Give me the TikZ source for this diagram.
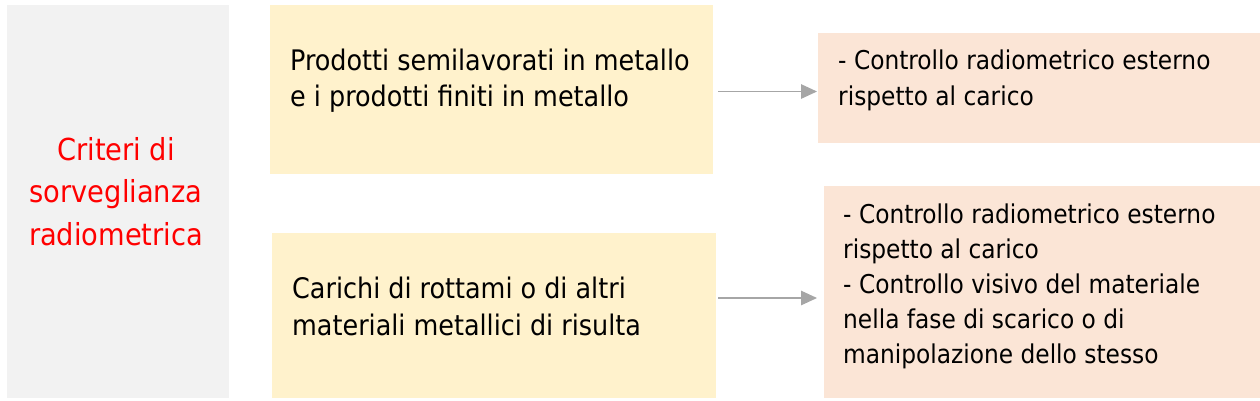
\documentclass[tikz,border=0pt]{standalone}
\usepackage{fontspec}
\setmainfont{DejaVu Sans Condensed}
\usetikzlibrary{arrows.meta}
\definecolor{critgray}{HTML}{F2F2F2}
\definecolor{prodyellow}{HTML}{FFF2CC}
\definecolor{ctrlpeach}{HTML}{FBE5D6}
\definecolor{arrowgray}{HTML}{A6A6A6}

\begin{document}
\begin{tikzpicture}[x=1pt,y=-1pt]
        \useasboundingbox (0,0) rectangle (1260,400);
        \begin{scope}[every node/.style={rectangle,inner sep=0pt,outer sep=0pt}]
            \node[fill=critgray,minimum width=222pt,minimum height=393pt] (crit) at (118,201.5) {};
            \node[fill=prodyellow,minimum width=443pt,minimum height=169pt] (y1) at (491.5,89.5) {};
            \node[fill=prodyellow,minimum width=444pt,minimum height=165pt] (y2) at (494,315.5) {};
            \node[fill=ctrlpeach,minimum width=442pt,minimum height=110pt] (p1) at (1039,88) {};
            \node[fill=ctrlpeach,minimum width=436pt,minimum height=212pt] (p2) at (1042,292) {};
        \end{scope}
        \begin{scope}[every node/.style={inner sep=0pt,anchor=north west,align=left,font=\fontsize{28.3}{36.5}\selectfont}]
            \node[anchor=north,align=center,text=red,font=\fontsize{30.3}{42.5}\selectfont] (critt) at (116,137) {Criteri di\\sorveglianza\\radiometrica};
            \node (y1t) at (290,48.5) {Prodotti semilavorati in metallo\\e i prodotti finiti in metallo};
            \node (y2t) at (292,276.8) {Carichi di rottami o di altri\\materiali metallici di risulta};
            \node[font=\fontsize{25.9}{36}\selectfont] (p1t) at (838,49.6) {- Controllo radiometrico esterno\\rispetto al carico};
            \node[font=\fontsize{25.9}{35}\selectfont] (p2t) at (843,203.6) {- Controllo radiometrico esterno\\rispetto al carico\\- Controllo visivo del materiale\\nella fase di scarico o di\\manipolazione dello stesso};
        \end{scope}
        \begin{scope}[every edge/.style={draw,arrowgray,line width=1.2pt}]
            \path [-{Triangle[length=16pt,width=14.5pt]}] ([shift={(5,2)}]y1.east) edge node {} ([shift={(-1,3.5)}]p1.west);
            \path [-{Triangle[length=16pt,width=14.5pt]}] ([shift={(2,-17.5)}]y2.east) edge node {} ([shift={(-7,6)}]p2.west);
        \end{scope}
    \end{tikzpicture}
\end{document}
